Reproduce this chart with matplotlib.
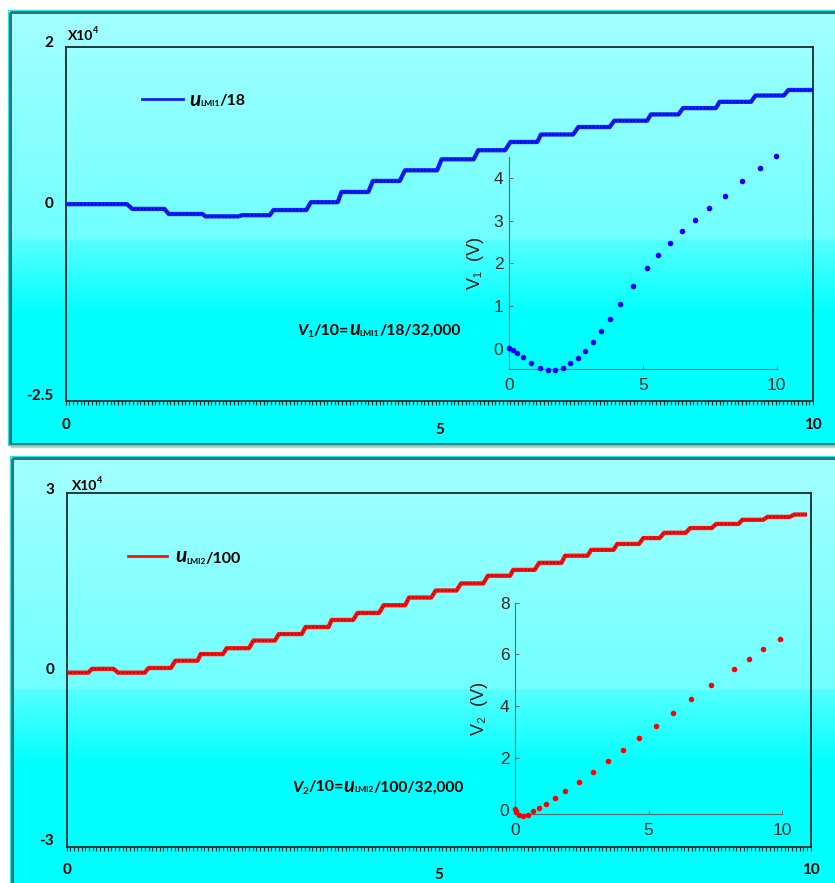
import matplotlib
matplotlib.use('Agg')
import matplotlib.pyplot as plt
import numpy as np
from matplotlib.patches import Rectangle
from matplotlib.lines import Line2D
from matplotlib.ticker import MultipleLocator
from matplotlib.transforms import IdentityTransform, ScaledTranslation

plt.rcParams['font.family'] = ['Lato', 'DejaVu Sans']

# ---------------- data ----------------
# top panel: staircase u_LMI1/18 (x10^4) versus x
top_seg_start = [0, 0.89, 1.38, 1.87, 2.36, 2.78, 3.28, 3.69, 4.11, 4.54, 5.03,
                 5.52, 5.95, 6.36, 6.86, 7.34, 7.83, 8.26, 8.75, 9.23, 9.67]
top_seg_end = [0.82, 1.32, 1.83, 2.31, 2.73, 3.22, 3.64, 4.05, 4.47, 4.97, 5.46,
               5.88, 6.31, 6.79, 7.28, 7.78, 8.20, 8.70, 9.17, 9.61, 10.0]
top_levels = [0, -0.06, -0.125, -0.155, -0.14, -0.075, 0.025, 0.155, 0.295, 0.43,
              0.57, 0.685, 0.79, 0.885, 0.98, 1.06, 1.14, 1.22, 1.30, 1.38, 1.45]

# bottom panel: staircase u_LMI2/100 (x10^4) versus x
bot_seg_start = [0, 0.34, 0.69, 1.10, 1.46, 1.80, 2.15, 2.51, 2.85, 3.21, 3.56,
                 3.91, 4.26, 4.60, 4.96, 5.30, 5.66, 6.00, 6.35, 6.70, 7.05, 7.40,
                 7.75, 8.03, 8.38, 8.73, 9.08, 9.42, 9.78]
bot_seg_end = [0.29, 0.63, 1.05, 1.40, 1.76, 2.10, 2.45, 2.80, 3.16, 3.52, 3.85,
               4.20, 4.55, 4.90, 5.24, 5.60, 5.96, 6.29, 6.65, 7.00, 7.35, 7.69,
               7.97, 8.32, 8.67, 9.03, 9.36, 9.72, 9.95]
bot_levels = [-0.045, 0.02, -0.045, 0.034, 0.158, 0.27, 0.37, 0.50, 0.61, 0.73,
              0.85, 0.97, 1.10, 1.23, 1.35, 1.47, 1.60, 1.70, 1.82, 1.94, 2.04,
              2.14, 2.24, 2.33, 2.41, 2.48, 2.55, 2.60, 2.64]

# insets: V1 and V2 (V)
v1_x = [0, 0.16, 0.31, 0.52, 0.81, 1.15, 1.44, 1.73, 2.02, 2.29, 2.57, 2.85, 3.14,
        3.45, 3.76, 4.13, 4.62, 5.14, 5.58, 6.01, 6.48, 6.96, 7.48, 8.06, 8.72,
        9.39, 9.99]
v1_y = [0.016, -0.02, -0.10, -0.20, -0.33, -0.44, -0.49, -0.49, -0.45, -0.34,
        -0.22, -0.04, 0.17, 0.42, 0.70, 1.04, 1.47, 1.89, 2.20, 2.48, 2.76, 3.02,
        3.30, 3.59, 3.92, 4.24, 4.51]
v2_x = [0, 0.04, 0.15, 0.30, 0.49, 0.69, 0.91, 1.17, 1.48, 1.88, 2.38, 2.93, 3.49,
        4.05, 4.65, 5.27, 5.92, 6.60, 7.33, 8.19, 8.74, 9.29, 9.91]
v2_y = [0.04, -0.09, -0.19, -0.23, -0.18, -0.06, 0.06, 0.24, 0.45, 0.73, 1.08,
        1.47, 1.88, 2.30, 2.77, 3.24, 3.73, 4.27, 4.81, 5.44, 5.84, 6.21, 6.61]

main_xticks = [0, 5, 10]
top_yticks = [-2.5, 0, 2]
top_yticklabels = ['-2.5', '0', '2']
bot_yticks = [-3, 0, 3]
bot_yticklabels = ['-3', '0', '3']
inset_xticks = [0, 5, 10]
v1_yticks = [0, 1, 2, 3, 4]
v2_yticks = [0, 2, 4, 6, 8]

# ---------------- figure ----------------
W, H = 835, 883
fig = plt.figure(figsize=(W / 100, H / 100), dpi=100)
fig.patch.set_facecolor('white')

bg = fig.add_axes([0, 0, 1, 1])
bg.set_zorder(-5)
bg.axis('off')


def gradient(n=500, band=0.53):
    f = np.linspace(0, 1, n)
    r = np.where(f < band, 0.64 - 0.20 * f / band,
                 np.clip(0.34 * (1 - (f - band) / 0.17), 0, None))
    img = np.ones((n, 1, 3))
    img[:, 0, 0] = r
    return img


panels = [(10, 11.5, 845, 443.5), (12, 458, 845, 895)]
for (x0, y0, x1, y1) in panels:
    bg.add_patch(Rectangle((x0 + 2, y0 + 2), x1 - x0, y1 - y0, fill=False,
                           ec='#c8d0d0', lw=2.5, zorder=1))
    bg.imshow(gradient(), extent=(x0, x1, y1, y0), aspect='auto',
              interpolation='bilinear', zorder=2)
    bg.add_patch(Rectangle((x0, y0), x1 - x0, y1 - y0, fill=False,
                           ec='#2a7575', lw=2.2, zorder=3))
    bg.add_patch(Rectangle((x0 - 1.8, y0 - 1.8), x1 - x0 + 3.6, y1 - y0 + 3.6,
                           fill=False, ec='#30e0e0', lw=1.0, zorder=3))
bg.set_xlim(0, W)
bg.set_ylim(H, 0)

SPINE = '#1c2b2b'


def fr(left, top, right, bottom):
    return [left / W, 1 - bottom / H, (right - left) / W, (bottom - top) / H]


def shift(lab, dx_px, dy_px):
    lab.set_transform(lab.get_transform() +
                      ScaledTranslation(dx_px / 100, dy_px / 100, fig.dpi_scale_trans))


def main_axes(rect, ylim, yticks, yticklabels, s, e, lv, color, dotcolor):
    ax = fig.add_axes(rect)
    ax.set_facecolor('none')
    xs = np.ravel(np.column_stack([s, e]))
    ys = np.repeat(lv, 2)
    ax.plot(xs, ys, color=color, lw=3.1, solid_joinstyle='round',
            solid_capstyle='butt', zorder=3)
    ax.plot(xs, ys, color=dotcolor, lw=1.2, ls=(0, (1, 1.2)), zorder=4)
    ax.set_xlim(0, 10)
    ax.set_ylim(*ylim)
    ax.set_xticks(main_xticks)
    ax.set_xticklabels([str(t) for t in main_xticks])
    ax.xaxis.set_minor_locator(MultipleLocator(0.05))
    ax.tick_params(axis='x', which='both', direction='out', length=3, width=0.8,
                   color=SPINE, top=False, pad=9)
    ax.set_yticks(yticks)
    ax.set_yticklabels(yticklabels)
    ax.tick_params(axis='y', length=0, pad=9)
    for lab in ax.get_xticklabels() + ax.get_yticklabels():
        lab.set_fontweight('bold')
        lab.set_fontsize(11)
        lab.set_color('black')
    ylabs = ax.get_yticklabels()
    shift(ylabs[0], 0, 7)   # bottom label sits a little above the spine
    shift(ylabs[1], 0, 2)
    shift(ylabs[2], 0, 5)
    shift(ax.get_xticklabels()[1], 0, -5)
    for sp in ax.spines.values():
        sp.set_color(SPINE)
        sp.set_linewidth(1.3)
    return ax


def inset_axes(rect, xs, ys, ylim, yticks, color, label, label_x):
    ax = fig.add_axes(rect)
    ax.set_facecolor('none')
    ax.plot(xs, ys, 'o', color=color, ms=4.0, mec='none', clip_on=False, zorder=3)
    ax.set_xlim(0, 10)
    ax.set_ylim(*ylim)
    ax.spines[['top', 'right']].set_visible(False)
    for sname in ['left', 'bottom']:
        ax.spines[sname].set_color('#5a6a6a')
        ax.spines[sname].set_linewidth(0.8)
    ax.set_xticks(inset_xticks)
    ax.set_yticks(yticks)
    ax.tick_params(direction='in', length=3, width=0.7, color='#5a6a6a',
                   labelsize=12.5, labelcolor='#2a2a2a')
    ax.tick_params(axis='x', pad=6)
    ax.tick_params(axis='y', pad=4)
    for lab in ax.get_xticklabels() + ax.get_yticklabels():
        lab.set_family(['Liberation Sans', 'DejaVu Sans'])
    ax.set_ylabel(label, fontsize=13, color='#1a1a1a',
                  family=['Liberation Sans', 'DejaVu Sans'])
    ax.yaxis.set_label_coords(label_x, 0.5)
    return ax


ax1 = main_axes(fr(65.7, 46.7, 813, 401), (-2.5, 2), top_yticks, top_yticklabels,
                top_seg_start, top_seg_end, top_levels, '#1020ff', '#0000b0')
ax2 = main_axes(fr(66.7, 493.3, 810.7, 846.7), (-3, 3), bot_yticks, bot_yticklabels,
                bot_seg_start, bot_seg_end, bot_levels, '#ff1010', '#b00000')

inset_axes(fr(509, 156.7, 776.7, 369.3), v1_x, v1_y, (-0.48, 4.5), v1_yticks,
           '#0000ff', 'V\u2081  (V)', -0.095)
inset_axes(fr(515, 602.7, 782.3, 814.3), v2_x, v2_y, (-0.17, 8), v2_yticks,
           '#ff0000', 'V\u2082  (V)', -0.10)

# legends (handle only, label drawn as rich text)
for ax, color, x0, x1, yc in [(ax1, '#1020ff', 142, 183, 100),
                              (ax2, '#ff1010', 127.7, 166.7, 556.7)]:
    pos = ax.get_position()
    fx = (x0 / W - pos.x0) / pos.width
    fy = ((1 - yc / H) - pos.y0) / pos.height
    handle = Line2D([], [], color=color, lw=2.0)
    ax.legend([handle], [''], loc='center left', bbox_to_anchor=(fx, fy), frameon=False,
              borderpad=0, borderaxespad=0, handletextpad=0, fontsize=10,
              handlelength=(x1 - x0) / (10 * 100 / 72))

renderer = fig.canvas.get_renderer()


def rich(x, y_top, pieces):
    """pieces: (text, size, style, dy_px)  -- y_top is baseline in px from top"""
    y = H - y_top
    for s, size, style, dy in pieces:
        t = fig.text(x, y + dy, s, transform=IdentityTransform(), fontsize=size,
                     fontstyle=style, fontweight='bold', ha='left', va='baseline',
                     color='black', zorder=10)
        x += t.get_window_extent(renderer).width


rich(189, 105.5, [('u', 15, 'italic', 0), ('LMI1', 6, 'normal', -1), ('/18', 11.5, 'normal', 0)])
rich(175, 562.5, [('u', 15, 'italic', 0), ('LMI2', 6, 'normal', -1), ('/100', 11.5, 'normal', 0)])
rich(297, 335, [('V', 11.5, 'italic', 0), ('1', 7.5, 'normal', -2), ('/10=', 11.5, 'normal', 0),
                ('u', 14.5, 'italic', 0), ('LMI1', 6, 'normal', -1),
                ('/18/32,000', 11.2, 'normal', 0)])
rich(292, 791.5, [('V', 11.5, 'italic', 0), ('2', 7.5, 'normal', -2), ('/10=', 11.5, 'normal', 0),
                  ('u', 14.5, 'italic', 0), ('LMI2', 6, 'normal', -1),
                  ('/100/32,000', 11.2, 'normal', 0)])
rich(68, 40, [('X10', 10, 'normal', 0), ('4', 6.5, 'normal', 7)])
rich(72, 490, [('X10', 10, 'normal', 0), ('4', 6.5, 'normal', 7)])

fig.savefig('out.png', dpi=100, facecolor='white')
